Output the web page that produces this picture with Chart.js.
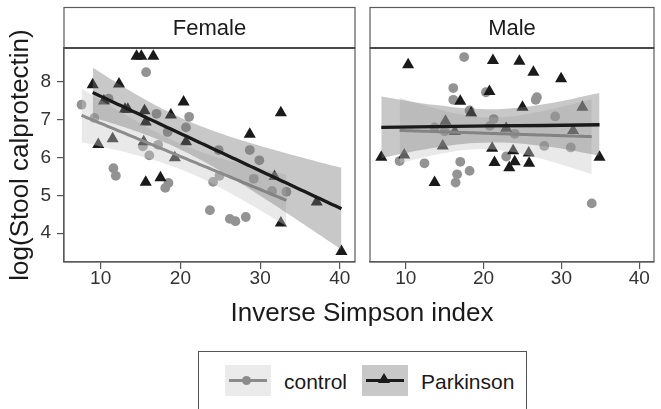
<!DOCTYPE html>
<html lang="en">
<head>
  <meta charset="UTF-8" />
  <title>log(Stool calprotectin) vs Inverse Simpson index</title>
  <script src="https://cdn.jsdelivr.net/npm/chart.js"></script>
  <style>
    body {
      margin: 0;
      background: #ffffff;
      width: 661px;
      height: 409px;
      overflow: hidden;
      position: relative;
      font-family: "Liberation Sans", Arial, Helvetica, sans-serif;
    }
    #femaleChart { position: absolute; left: 0; top: 0; }
    #maleChart { position: absolute; left: 362px; top: 0; }
    #xTitle {
      position: absolute; left: 0; top: 299px; width: 724px;
      text-align: center; font-size: 26px; line-height: 26px; color: #1a1a1a;
    }
    #legend {
      position: absolute; left: 198px; top: 351px; width: 329px; height: 80px;
      border: 1px solid #555; box-sizing: border-box; background: #fff;
    }
    .key { position: absolute; top: 13px; width: 46px; height: 31px; }
    .key .ln { position: absolute; left: 4px; right: 4px; top: 14px; height: 3px; }
    .key .dot { position: absolute; left: 17px; top: 11px; width: 9px; height: 9px; border-radius: 50%; }
    .key .tri {
      position: absolute; left: 16px; top: 8px; width: 0; height: 0;
      border-left: 6px solid transparent; border-right: 6px solid transparent;
      border-bottom: 10px solid #1a1a1a;
    }
    .lbl { position: absolute; top: 19px; font-size: 21px; line-height: 22px; color: #1a1a1a; }
  </style>
</head>
<body>
  <canvas id="femaleChart" width="362" height="300"></canvas>
  <canvas id="maleChart" width="299" height="300"></canvas>
  <div id="xTitle">Inverse Simpson index</div>

  <div id="legend">
    <div class="key" style="left:26px; background:#ebebeb;">
      <div class="ln" style="background:#8c8c8c;"></div>
      <div class="dot" style="background:#8c8c8c;"></div>
    </div>
    <div class="lbl" style="left:85px;">control</div>
    <div class="key" style="left:163px; background:#c8c8c8;">
      <div class="ln" style="background:#1a1a1a;"></div>
      <div class="tri"></div>
    </div>
    <div class="lbl" style="left:222px;">Parkinson</div>
  </div>

  <script>
    // axes
    const xTicks = [10, 20, 30, 40];
    const yTicks = [4, 5, 6, 7, 8];
    const xMin = 5.4, xMax = 41.9;
    const yMin = 3.24, yMax = 8.9;

    // Female - control (circles)
    const femaleControlX = [7.6, 9.2, 11.0, 11.6, 11.9, 15.7, 17.0, 16.1, 15.3, 17.2, 18.4, 18.5, 18.1, 20.7, 21.1,
                            23.7, 24.1, 24.8, 24.9, 26.2, 26.9, 28.2, 28.7, 29.9, 29.2, 31.5, 33.3];
    const femaleControlY = [7.40, 7.05, 7.56, 5.72, 5.52, 8.26, 7.16, 6.06, 6.30, 6.34, 6.68, 5.33, 5.20, 6.80, 7.08,
                            4.61, 5.36, 6.20, 5.52, 4.38, 4.32, 4.43, 6.20, 5.93, 5.44, 5.12, 5.10];
    // Female - Parkinson (triangles)
    const femaleParkX = [9.0, 9.7, 12.3, 11.5, 10.4, 13.05, 13.4, 14.5, 15.1, 16.6, 15.5, 15.65, 15.4, 15.65, 17.5,
                         18.8, 19.3, 20.4, 20.7, 28.7, 32.6, 31.8, 32.6, 37.1, 40.2];
    const femaleParkY = [7.93, 6.35, 7.95, 6.50, 7.50, 7.28, 7.28, 8.68, 8.68, 8.68, 7.24, 6.94, 6.42, 5.35, 5.47,
                         7.13, 6.00, 7.47, 6.42, 6.62, 7.19, 5.50, 4.27, 4.83, 3.52];

    // Male - control (circles)
    const maleControlX = [9.2, 12.4, 13.7, 15.0, 17.5, 16.1, 16.1, 17.0, 16.6, 16.4, 18.2, 18.2, 20.3, 21.3, 20.8,
                          22.9, 24.0, 26.85, 26.7, 27.8, 29.2, 31.2, 33.9];
    const maleControlY = [5.91, 5.85, 6.80, 6.70, 8.66, 7.84, 7.53, 5.89, 5.56, 5.34, 5.65, 7.25, 7.73, 7.02, 6.84,
                          6.03, 6.63, 7.60, 7.53, 6.31, 7.09, 6.27, 4.79];
    // Male - Parkinson (triangles)
    const maleParkX = [6.85, 10.3, 9.8, 13.7, 15.1, 14.75, 16.3, 17.0, 18.4, 21.2, 20.75, 21.1, 21.4, 22.9, 23.3,
                       23.8, 24.0, 24.6, 25.0, 25.8, 25.85, 26.4, 29.96, 31.5, 32.7, 34.9];
    const maleParkY = [6.01, 8.46, 6.07, 5.34, 6.96, 6.31, 6.69, 7.49, 7.18, 8.57, 7.75, 6.25, 5.87, 6.78, 5.73,
                       6.18, 5.89, 8.55, 7.33, 6.12, 5.85, 8.26, 8.09, 6.72, 7.33, 6.01];
    // Male - Parkinson smooth (fit line and 95% band)
    const maleParkFitX = [6.85, 13.9, 20.9, 27.9, 34.9];
    const maleParkFitY = [6.80, 6.82, 6.84, 6.85, 6.87];
    const maleParkBandHigh = [7.62, 7.39, 7.28, 7.42, 7.71];
    const maleParkBandLow = [5.99, 6.27, 6.40, 6.30, 6.05];

    const controlPoint = '#939393', controlLine = '#8c8c8c', controlFill = 'rgba(200,200,200,0.4)';
    const parkPoint = '#1a1a1a', parkLine = '#1a1a1a', parkFill = 'rgba(118,118,118,0.4)';
    const fontFamily = '"Liberation Sans", Arial, sans-serif';

    // 95% t quantile (Cornish-Fisher approximation)
    function t975(df) {
      const z = 1.959964;
      return z + (z ** 3 + z) / (4 * df) + (5 * z ** 5 + 16 * z ** 3 + 3 * z) / (96 * df * df);
    }

    // linear fit with confidence band, like geom_smooth(method = "lm")
    function lmSmooth(xs, ys) {
      const n = xs.length;
      const mx = xs.reduce((a, b) => a + b, 0) / n;
      const my = ys.reduce((a, b) => a + b, 0) / n;
      let sxx = 0, sxy = 0;
      xs.forEach((x, i) => { sxx += (x - mx) ** 2; sxy += (x - mx) * (ys[i] - my); });
      const b = sxy / sxx, a = my - b * mx;
      let sse = 0;
      xs.forEach((x, i) => { sse += (ys[i] - a - b * x) ** 2; });
      const s = Math.sqrt(sse / (n - 2));
      const t = t975(n - 2);
      const lo = Math.min(...xs), hi = Math.max(...xs);
      const line = [], upper = [], lower = [];
      for (let k = 0; k <= 80; k++) {
        const x = lo + (hi - lo) * k / 80;
        const y = a + b * x;
        const h = t * s * Math.sqrt(1 / n + (x - mx) ** 2 / sxx);
        line.push({ x, y });
        upper.push({ x, y: y + h });
        lower.push({ x, y: y - h });
      }
      return { line, upper, lower, tension: 0 };
    }

    const toPts = (xs, ys) => xs.map((x, i) => ({ x, y: ys[i] }));

    // panel border + strip on top
    function panelPlugin(label) {
      return {
        id: 'panel',
        afterDraw(chart) {
          const { ctx, chartArea: ca } = chart;
          ctx.save();
          ctx.strokeStyle = '#5a5a5a';
          ctx.lineWidth = 1.2;
          ctx.strokeRect(ca.left, ca.top, ca.right - ca.left, ca.bottom - ca.top);
          // strip
          ctx.fillStyle = '#ffffff';
          ctx.fillRect(ca.left, 7.5, ca.right - ca.left, ca.top - 7.5);
          ctx.strokeRect(ca.left, 7.5, ca.right - ca.left, ca.top - 7.5);
          ctx.lineWidth = 2.2;
          ctx.strokeStyle = '#4a4a4a';
          ctx.beginPath();
          ctx.moveTo(ca.left, ca.top);
          ctx.lineTo(ca.right, ca.top);
          ctx.stroke();
          ctx.fillStyle = '#1a1a1a';
          ctx.font = '22px ' + fontFamily;
          ctx.textAlign = 'center';
          ctx.textBaseline = 'middle';
          ctx.fillText(label, (ca.left + ca.right) / 2, 28.5);
          ctx.restore();
        }
      };
    }

    function makePanel(id, label, cx, cy, px, py, showY, pFitRead) {
      const cFit = lmSmooth(cx, cy);
      const pFit = pFitRead || lmSmooth(px, py);
      const bandLine = { type: 'line', pointRadius: 0, borderWidth: 0, showLine: true };
      return new Chart(document.getElementById(id), {
        type: 'scatter',
        data: {
          datasets: [
            { label: 'control', data: toPts(cx, cy), pointStyle: 'circle', pointRadius: 4.9,
              backgroundColor: controlPoint, borderWidth: 0, order: 10 },
            { label: 'Parkinson', data: toPts(px, py), pointStyle: 'triangle', pointRadius: 7,
              backgroundColor: parkPoint, borderWidth: 0, order: 9 },
            { ...bandLine, data: cFit.upper, fill: false, order: 5 },
            { ...bandLine, data: cFit.lower, fill: '-1', backgroundColor: controlFill, order: 5 },
            { type: 'line', data: cFit.line, pointRadius: 0, borderColor: controlLine, borderWidth: 3, fill: false, order: 4 },
            { ...bandLine, data: pFit.upper, fill: false, tension: pFit.tension, order: 3 },
            { ...bandLine, data: pFit.lower, fill: '-1', tension: pFit.tension, backgroundColor: parkFill, order: 3 },
            { type: 'line', data: pFit.line, pointRadius: 0, borderColor: parkLine, borderWidth: 3.3, fill: false, order: 2 }
          ]
        },
        options: {
          responsive: false,
          animation: false,
          layout: { padding: showY ? { top: 48, right: 7, left: 0, bottom: 0 } : { top: 48, right: 1, left: 8, bottom: 0 } },
          plugins: { legend: { display: false }, tooltip: { enabled: false } },
          scales: {
            x: {
              type: 'linear', min: xMin, max: xMax,
              afterBuildTicks: s => { s.ticks = xTicks.map(v => ({ value: v })); },
              afterFit: s => { s.height = 38; },
              grid: { display: true, drawOnChartArea: false, drawTicks: true, tickLength: 7, color: '#555', lineWidth: 1.2 },
              border: { display: true, color: '#5a5a5a', width: 1.2 },
              ticks: { color: '#333', padding: -2, font: { size: 19, family: fontFamily } }
            },
            y: {
              type: 'linear', min: yMin, max: yMax, display: showY,
              afterBuildTicks: s => { s.ticks = yTicks.map(v => ({ value: v })); },
              afterFit: s => { s.width = showY ? 64 : 0; },
              grid: { display: true, drawOnChartArea: false, drawTicks: true, tickLength: 7, color: '#555', lineWidth: 1.2 },
              border: { display: true, color: '#5a5a5a', width: 1.2 },
              ticks: { color: '#333', padding: 6, font: { size: 19, family: fontFamily } },
              title: { display: true, text: 'log(Stool calprotectin)', color: '#1a1a1a', padding: { top: 5, bottom: 0 },
                       font: { size: 26, family: fontFamily } }
            }
          }
        },
        plugins: [panelPlugin(label)]
      });
    }

    makePanel('femaleChart', 'Female', femaleControlX, femaleControlY, femaleParkX, femaleParkY, true);
    makePanel('maleChart', 'Male', maleControlX, maleControlY, maleParkX, maleParkY, false, {
      line: toPts(maleParkFitX, maleParkFitY),
      upper: toPts(maleParkFitX, maleParkBandHigh),
      lower: toPts(maleParkFitX, maleParkBandLow),
      tension: 0.4
    });
  </script>
</body>
</html>
